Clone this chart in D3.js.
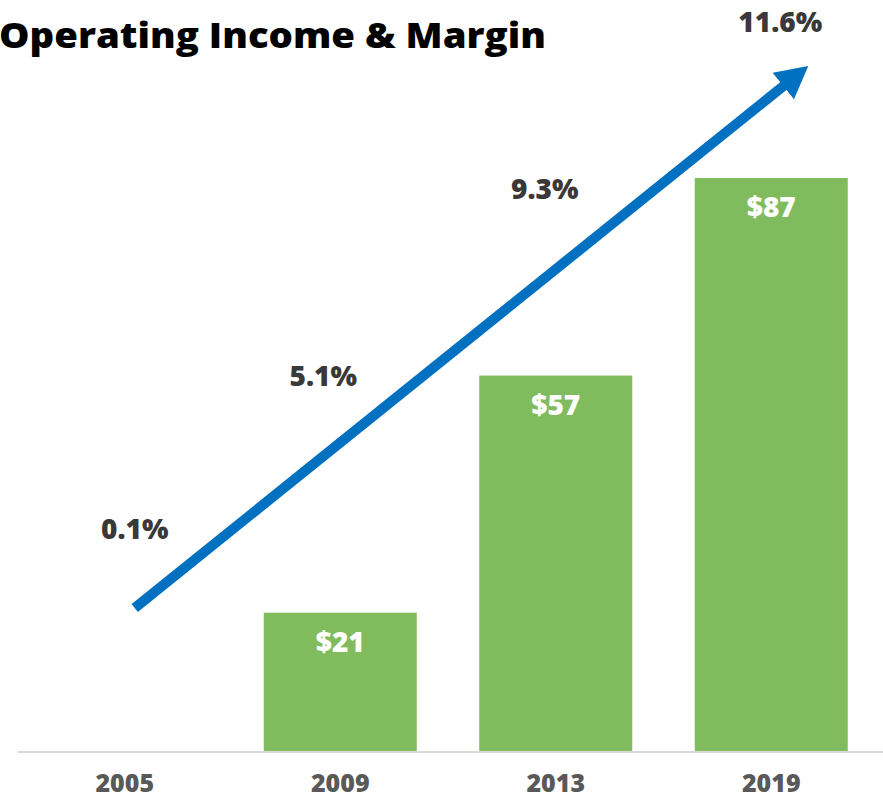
<!DOCTYPE html>
<html>
<head>
<meta charset="utf-8">
<script src="https://cdn.jsdelivr.net/npm/d3@7"></script>
<style>
  body { margin: 0; background: #fff; }
  text { font-family: "Open Sans", "Lato", sans-serif; }
</style>
</head>
<body>
<div id="chart"></div>
<script>
var years = ["2005", "2009", "2013", "2019"];
var income = [0, 21, 57, 87];
var margins = [0.1, 5.1, 9.3, 11.6];

var width = 883, height = 799;
var baseY = 751;

var svg = d3.select("#chart")
  .append("svg")
  .attr("width", width)
  .attr("height", height);

var x = d3.scaleBand()
  .domain(years)
  .range([17, 879])
  .paddingInner(0.29)
  .paddingOuter(0.145);

var y = d3.scaleLinear()
  .domain([0, 87])
  .range([baseY, 178]);

// title
svg.append("text")
  .attr("x", -1)
  .attr("y", 48)
  .attr("font-size", 35)
  .attr("font-weight", 800)
  .attr("fill", "#000")
  .attr("textLength", 547)
  .attr("lengthAdjust", "spacingAndGlyphs")
  .text("Operating Income & Margin");

// bars
svg.selectAll(".bar")
  .data(years.filter((d, i) => income[i] > 0))
  .enter()
  .append("rect")
  .attr("class", "bar")
  .attr("x", d => x(d))
  .attr("width", x.bandwidth())
  .attr("y", d => y(income[years.indexOf(d)]))
  .attr("height", d => baseY - y(income[years.indexOf(d)]))
  .attr("fill", "#80bc5e");

svg.selectAll(".barLabel")
  .data(years.filter((d, i) => income[i] > 0))
  .enter()
  .append("text")
  .attr("class", "barLabel")
  .attr("x", d => x(d) + x.bandwidth() / 2)
  .attr("y", d => y(income[years.indexOf(d)]) + 39)
  .attr("text-anchor", "middle")
  .attr("font-size", 28)
  .attr("font-weight", 800)
  .attr("fill", "#fff")
  .text(d => "$" + income[years.indexOf(d)]);

// baseline
svg.append("line")
  .attr("x1", 18)
  .attr("x2", width)
  .attr("y1", baseY + 1)
  .attr("y2", baseY + 1)
  .attr("stroke", "#d9d9d9")
  .attr("stroke-width", 2);

// x axis labels
var xAxis = d3.axisBottom(x).tickSize(0).tickPadding(23);
var gx = svg.append("g")
  .attr("transform", `translate(0, ${baseY})`)
  .call(xAxis);
gx.select(".domain").remove();
gx.selectAll("text")
  .attr("font-size", 25)
  .attr("font-weight", 800)
  .attr("fill", "#595959")
  .style("font-family", "'Open Sans', sans-serif");

// margin arrow
var c = d => x(d) + x.bandwidth() / 2;
var x0 = c(years[0]) + 10, x1 = c(years[3]) + 37;
var y0 = 608, y1 = 66;
var slope = (y1 - y0) / (x1 - x0);
var ang = Math.atan2(y1 - y0, x1 - x0);
var headLen = 32, headW = 17;
var bx = x1 - headLen * Math.cos(ang), by = y1 - headLen * Math.sin(ang);

svg.append("line")
  .attr("x1", x0).attr("y1", y0)
  .attr("x2", bx + 2 * Math.cos(ang)).attr("y2", by + 2 * Math.sin(ang))
  .attr("stroke", "#0070c0")
  .attr("stroke-width", 10);

var px = -Math.sin(ang), py = Math.cos(ang);
svg.append("path")
  .attr("d", d3.line()([
    [x1, y1],
    [bx + px * headW, by + py * headW],
    [bx - px * headW, by - py * headW]
  ]) + "Z")
  .attr("fill", "#0070c0");

// margin labels, sitting above the arrow
var dx = [10, -17, -11, 9];
var gap = [69, 70, 79, 57];
svg.selectAll(".marginLabel")
  .data(margins)
  .enter()
  .append("text")
  .attr("class", "marginLabel")
  .attr("x", (d, i) => c(years[i]) + dx[i])
  .attr("y", (d, i) => y0 + slope * (c(years[i]) + dx[i] - x0) - gap[i])
  .attr("text-anchor", "middle")
  .attr("font-size", 28)
  .attr("font-weight", 800)
  .attr("fill", "#3b3838")
  .text(d => d.toFixed(1) + "%");
</script>
</body>
</html>
